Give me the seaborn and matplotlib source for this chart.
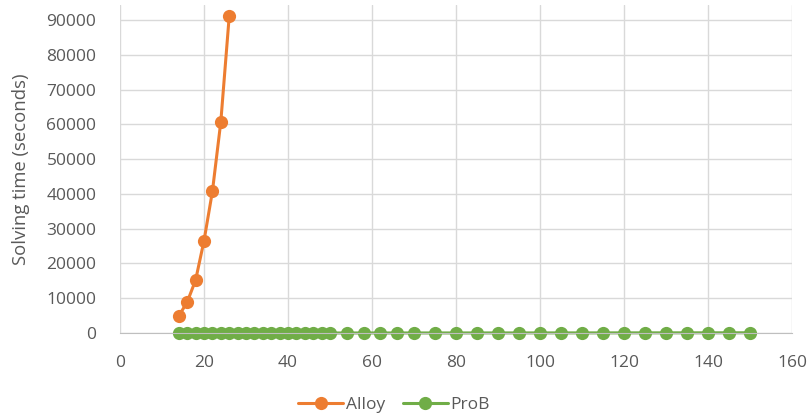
import pandas as pd
import matplotlib
matplotlib.use("Agg")
import matplotlib.pyplot as plt
import seaborn as sns

# Alloy solving times (seconds)
alloy_n = [14, 16, 18, 20, 22, 24, 26]
alloy_time = [4900, 8900, 15200, 26500, 40700, 60700, 91000]

# ProB solving times (seconds) - all close to zero
prob_n = [14, 16, 18, 20, 22, 24, 26, 28, 30, 32, 34, 36, 38, 40, 42, 44, 46, 48, 50,
          54, 58, 62, 66, 70, 75, 80, 85, 90, 95, 100, 105, 110, 115, 120, 125, 130,
          135, 140, 145, 150]
prob_time = [1, 1, 1, 1, 1, 2, 2, 2, 2, 3, 3, 3, 4, 4, 5, 5, 6, 6, 7,
             8, 9, 10, 12, 13, 15, 17, 19, 22, 24, 27, 30, 33, 36, 40, 43, 47,
             51, 55, 60, 65]

df = pd.concat([
    pd.DataFrame({"n": alloy_n, "time": alloy_time, "tool": "Alloy"}),
    pd.DataFrame({"n": prob_n, "time": prob_time, "tool": "ProB"}),
])

sns.set_style("white")
plt.rcParams['font.family'] = ['Open Sans', 'DejaVu Sans']
grey = "#595959"
colors = {"Alloy": "#ED7D31", "ProB": "#70AD47"}

fig = plt.figure(figsize=(8.09, 4.18), dpi=100)
ax = fig.add_axes([120 / 809, 1 - 333 / 418, (792 - 120) / 809, (333 - 5) / 418])

sns.lineplot(data=df, x="n", y="time", hue="tool", palette=colors,
             marker="o", markersize=9.5, markeredgewidth=0, linewidth=2.2,
             ax=ax, legend=False)
for line in ax.lines:
    line.set_clip_on(False)

ax.set_xlim(0, 160)
ax.set_ylim(0, 94300)
ax.set_xticks(range(0, 161, 20))
ax.set_yticks(range(0, 90001, 10000))
ax.grid(True, color="#d9d9d9", linewidth=1)
ax.set_axisbelow(True)
for s in ["top", "right", "left"]:
    ax.spines[s].set_visible(False)
ax.spines["bottom"].set_color("#bfbfbf")
ax.tick_params(axis="both", length=0, labelsize=12.5, labelcolor=grey)
ax.tick_params(axis="y", pad=17)
ax.tick_params(axis="x", pad=16)
ax.set_xlabel("")
ax.set_ylabel("Solving time (seconds)", fontsize=13.3, color=grey, labelpad=12)

handles = [plt.Line2D([], [], color=colors[k], marker="o", markersize=9.5,
                      markeredgewidth=0, linewidth=2.2) for k in colors]
fig.legend(handles, list(colors), loc="center", bbox_to_anchor=(0.487, 13 / 418),
           ncol=2, frameon=False, fontsize=12.5, labelcolor=grey,
           handlelength=2.6, columnspacing=1.0, handletextpad=0.15)

fig.savefig("out.png", dpi=100)
